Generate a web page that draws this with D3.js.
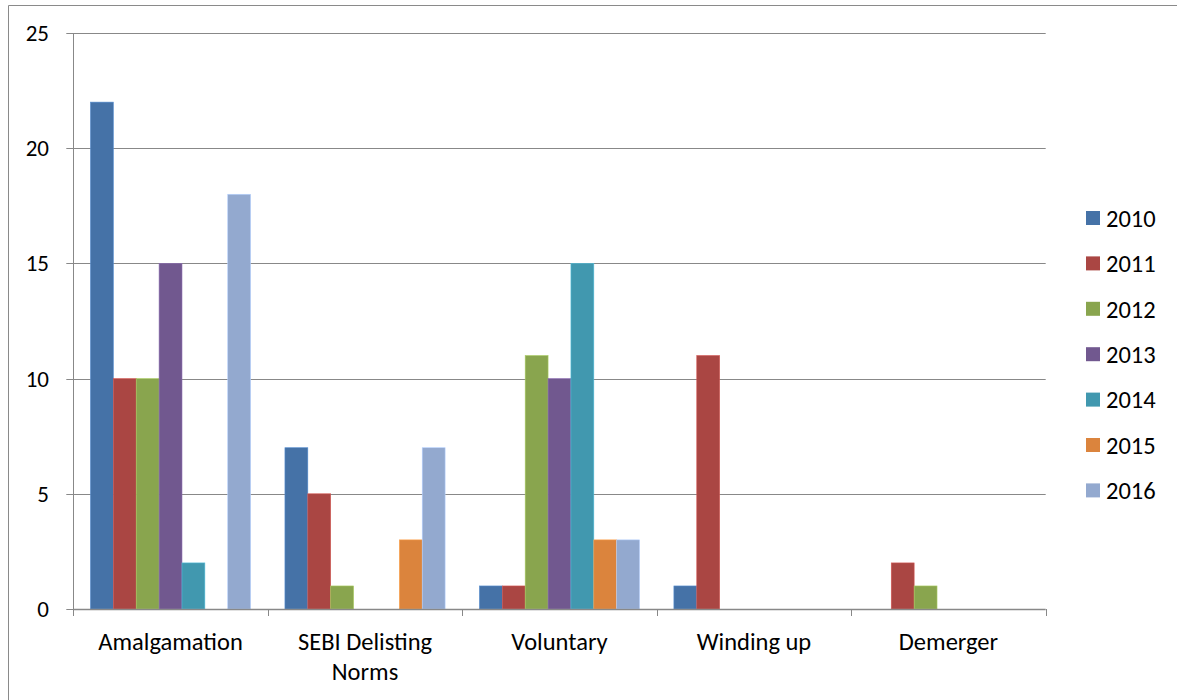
<!DOCTYPE html>
<html><head><meta charset="utf-8">
<script src="https://cdn.jsdelivr.net/npm/d3@7"></script>
<style>
html,body{margin:0;padding:0;background:#fff;}
svg{display:block;font-family:Carlito,Lato,"Open Sans",sans-serif;}
</style></head>
<body><svg id="c" width="1177" height="700"></svg>
<script>
const categories = [["Amalgamation"], ["SEBI Delisting", "Norms"], ["Voluntary"], ["Winding up"], ["Demerger"]];
const seriesNames = ["2010", "2011", "2012", "2013", "2014", "2015", "2016"];
const v2010 = [22, 7, 1, 1, 0];
const v2011 = [10, 5, 1, 11, 2];
const v2012 = [10, 1, 11, 0, 1];
const v2013 = [15, 0, 10, 0, 0];
const v2014 = [2, 0, 15, 0, 0];
const v2015 = [0, 3, 3, 0, 0];
const v2016 = [18, 7, 3, 0, 0];
const yTicks = [0, 5, 10, 15, 20, 25];
const colors = ["#4572A7", "#AA4643", "#89A54E", "#71588F", "#4198AF", "#DB843D", "#93A9CF"];

const seriesValues = [v2010, v2011, v2012, v2013, v2014, v2015, v2016];
const svg = d3.select("#c");
const pL = 73.3, pR = 1045.7, pT = 33, pB = 609;

// outer frame
svg.append("path").attr("d", "M8.5,710 V5.5 H1200").attr("fill", "none").attr("stroke", "#8a8a8a").attr("stroke-width", 1);

const x0 = d3.scaleBand().domain(d3.range(categories.length)).range([pL, pR]).paddingInner(0).paddingOuter(0);
const x1 = d3.scaleBand().domain(d3.range(seriesNames.length)).range([0, x0.bandwidth()]).paddingInner(0).paddingOuter(0.75);
const y = d3.scaleLinear().domain([0, 25]).range([pB, pT]);

// gridlines
svg.append("g").selectAll("line").data(yTicks.filter(t => t > 0)).join("line")
  .attr("x1", pL - 7).attr("x2", pR)
  .attr("y1", d => Math.round(y(d)) + 0.5).attr("y2", d => Math.round(y(d)) + 0.5)
  .attr("stroke", "#888").attr("stroke-width", 1);

// bars
const g = svg.append("g");
categories.forEach((c, ci) => {
  seriesValues.forEach((vals, si) => {
    const v = vals[ci];
    if (!v) return;
    g.append("rect")
      .attr("x", x0(ci) + x1(si))
      .attr("y", y(v))
      .attr("width", x1.bandwidth())
      .attr("height", y(0) - y(v))
      .attr("fill", colors[si])
      .attr("stroke", d3.color(colors[si]).brighter(0.6))
      .attr("stroke-width", 0.6);
  });
});

// y axis line
svg.append("line").attr("x1", Math.round(pL) + 0.5).attr("x2", Math.round(pL) + 0.5)
  .attr("y1", pT).attr("y2", pB).attr("stroke", "#888");
svg.append("line").attr("x1", pL - 7).attr("x2", pL).attr("y1", pB + 0.5).attr("y2", pB + 0.5).attr("stroke", "#888");
// y labels
svg.append("g").selectAll("text").data(yTicks).join("text")
  .attr("x", 49).attr("y", d => y(d)).attr("dy", "0.35em")
  .attr("text-anchor", "end").attr("font-size", 23).attr("fill", "#000")
  .text(d => d);

// x axis
svg.append("line").attr("x1", pL).attr("x2", pR).attr("y1", pB + 0.5).attr("y2", pB + 0.5)
  .attr("stroke", "#888").attr("stroke-width", 1.5);
svg.append("g").selectAll("line").data(d3.range(categories.length + 1)).join("line")
  .attr("x1", d => Math.round(pL + d * x0.bandwidth()) + 0.5)
  .attr("x2", d => Math.round(pL + d * x0.bandwidth()) + 0.5)
  .attr("y1", pB).attr("y2", pB + 7).attr("stroke", "#888");

// category labels
categories.forEach((lines, ci) => {
  const t = svg.append("text").attr("text-anchor", "middle").attr("font-size", 24.5).attr("fill", "#000")
    .attr("x", x0(ci) + x0.bandwidth() / 2).attr("y", 650);
  lines.forEach((l, li) => t.append("tspan").attr("x", x0(ci) + x0.bandwidth() / 2).attr("dy", li ? 30 : 0).text(l));
});

// legend
const lg = svg.append("g");
seriesNames.forEach((n, i) => {
  const yy = 218 + i * 45.4;
  lg.append("rect").attr("x", 1086).attr("y", yy - 7).attr("width", 14).attr("height", 14).attr("fill", colors[i]);
  lg.append("text").attr("x", 1106).attr("y", yy).attr("dy", "0.36em").attr("font-size", 24.5).attr("fill", "#000").text(n);
});
</script></body></html>
